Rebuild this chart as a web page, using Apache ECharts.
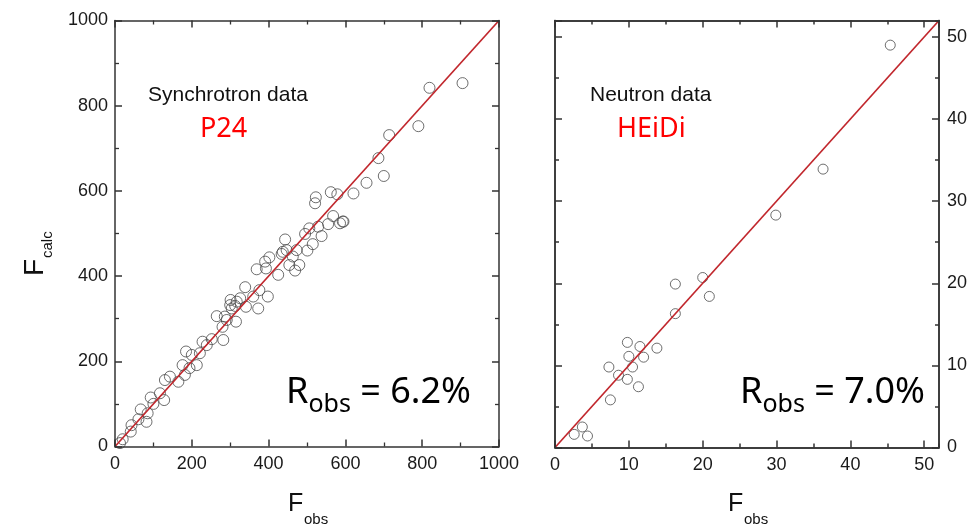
<!DOCTYPE html>
<html><head><meta charset="utf-8">
<script src="https://cdn.jsdelivr.net/npm/echarts@6/dist/echarts.min.js"></script>
<style>html,body{margin:0;padding:0;background:#fff}#c{width:971px;height:525px}</style>
</head><body><div id="c"></div>
<script>
// Synchrotron (P24) data: F_obs vs F_calc
const synObs = [905,819,790,714,686,700,655,621,579,562,523,521,568,555,586,595,538,529,506,495,515,501,443,447,434,473,454,469,480,425,402,391,393,369,398,376,373,360,339,341,326,301,304,313,315,286,265,280,282,252,228,239,221,200,185,213,176,194,182,165,143,130,128,117,93,100,67,85,82,61,43,41,20,13,463,317,291,300,593,437];
const synCalc = [853,842,752,731,677,635,619,594,592,597,585,571,541,522,524,528,494,516,512,499,475,460,486,461,452,461,426,413,426,403,444,434,418,416,352,367,324,352,374,328,348,344,324,330,293,305,306,281,250,252,246,238,219,215,223,191,191,184,168,152,164,156,109,125,115,100,87,78,58,64,50,35,17,8,446,340,297,332,528,457];
// Neutron (HEiDi) data
const neuObs = [2.6,3.7,4.4,7.5,7.3,8.6,9.8,10.0,10.5,9.8,11.3,11.5,12.0,13.8,16.3,16.3,20.0,20.9,29.9,36.3,45.4];
const neuCalc = [1.6,2.5,1.4,5.8,9.8,8.8,12.8,11.1,9.8,8.3,7.4,12.3,11.0,12.1,16.3,19.9,20.7,18.4,28.3,33.9,49.0];
// axis ranges / ticks
const synMin = 0, synMax = 1000, synStep = 200;
const neuMin = 0, neuMax = 52, neuStep = 10, neuMinorStep = 5;
// ideal line F_calc = F_obs
const synDiag = [[0,0],[1000,1000]];
const neuDiag = [[0,0],[52,52]];

const AX = '#333';
function axis(grid, pos, min, max, interval, o) {
  o = o || {};
  return {
    type: 'value', gridIndex: grid, position: pos, min: min, max: max, interval: interval,
    axisLine: {show: true, onZero: false, lineStyle: {color: AX, width: 1.5}},
    axisTick: {show: true, inside: true, length: o.tickLen || 7, lineStyle: {color: AX, width: 1.5}},
    minorTick: {show: !!o.minor, splitNumber: 2, length: 4, lineStyle: {color: AX, width: 1.3}},
    splitLine: {show: false}, minorSplitLine: {show: false},
    axisLabel: {show: !!o.label, fontSize: 18, color: '#1a1a1a', fontFamily: 'Liberation Sans',
      margin: o.margin || 8, showMaxLabel: o.showMax !== false, formatter: v => String(v)},
    z: 5
  };
}

const xAxes = [
  axis(0, 'bottom', synMin, synMax, synStep, {label: true, minor: true, margin: 9}),
  axis(0, 'top', synMin, synMax, synStep, {minor: true}),
  axis(1, 'bottom', neuMin, neuMax, neuStep, {label: true, margin: 9, showMax: false}),
  axis(1, 'bottom', neuMin, neuMax, neuMinorStep, {tickLen: 4}),
  axis(1, 'top', neuMin, neuMax, neuStep, {}),
  axis(1, 'top', neuMin, neuMax, neuMinorStep, {tickLen: 4})
];
const yAxes = [
  axis(0, 'left', synMin, synMax, synStep, {label: true, minor: true, margin: 7}),
  axis(0, 'right', synMin, synMax, synStep, {minor: true}),
  axis(1, 'right', neuMin, neuMax, neuStep, {label: true, margin: 8, showMax: false}),
  axis(1, 'right', neuMin, neuMax, neuMinorStep, {tickLen: 4}),
  axis(1, 'left', neuMin, neuMax, neuStep, {}),
  axis(1, 'left', neuMin, neuMax, neuMinorStep, {tickLen: 4})
];

const pts = (a, b) => a.map((v, i) => [v, b[i]]);
const circ = (size) => ({
  type: 'scatter', symbol: 'circle', symbolSize: size,
  itemStyle: {color: 'rgba(0,0,0,0)', borderColor: '#4a4a4a', borderWidth: 1}, z: 3
});
const diag = {type: 'line', symbol: 'none', lineStyle: {color: '#c1272d', width: 1.7}, z: 4, silent: true};

const chart = echarts.init(document.getElementById('c'), null, {renderer: 'canvas'});
const FS = 'Liberation Sans', FC = 'Noto Sans';
function robs(x, y, val) {
  return {type: 'text', left: x, top: y, z: 10, style: {
    text: '{r|R}{s|obs}{r| = ' + val + '}', fill: '#000',
    rich: {r: {fontSize: 36, fontFamily: FC, lineHeight: 48, fill: '#000'},
           s: {fontSize: 25, fontFamily: FC, lineHeight: 25, padding: [24, 0, 0, 0], fill: '#000'}}
  }};
}
function fobs(x) {
  return [
    {type: 'text', x: x, y: 517, style: {text: 'F', fontSize: 25, fontFamily: FS, fill: '#111', verticalAlign: 'bottom'}},
    {type: 'text', x: x + 16, y: 527, style: {text: 'obs', fontSize: 15, fontFamily: FS, fill: '#111', verticalAlign: 'bottom'}}
  ];
}
chart.setOption({
  animation: false,
  grid: [
    {left: 115, top: 20.5, width: 384, height: 426},
    {left: 555, top: 20.5, width: 384, height: 427}
  ],
  xAxis: xAxes,
  yAxis: yAxes,
  series: [
    Object.assign(circ(11), {xAxisIndex: 0, yAxisIndex: 0, data: pts(synObs, synCalc)}),
    Object.assign({}, diag, {xAxisIndex: 0, yAxisIndex: 0, data: synDiag}),
    Object.assign(circ(10), {xAxisIndex: 2, yAxisIndex: 2, data: pts(neuObs, neuCalc)}),
    Object.assign({}, diag, {xAxisIndex: 2, yAxisIndex: 2, data: neuDiag})
  ],
  graphic: [
    {type: 'text', x: 148, y: 95, style: {text: 'Synchrotron data', fontSize: 21, fontFamily: FS, fill: '#111', verticalAlign: 'middle'}},
    {type: 'text', x: 200, y: 129, style: {text: 'P24', fontSize: 27, fontFamily: FC, fill: '#ff0000', verticalAlign: 'middle'}},
    {type: 'text', x: 590, y: 95, style: {text: 'Neutron data', fontSize: 21, fontFamily: FS, fill: '#111', verticalAlign: 'middle'}},
    {type: 'text', x: 617, y: 129, style: {text: 'HEiDi', fontSize: 27, fontFamily: FC, fill: '#ff0000', verticalAlign: 'middle'}},
    robs(286, 368, '6.2%'),
    robs(740, 368, '7.0%'),
    ...fobs(288), ...fobs(728),
    {type: 'text', x: 35, y: 276, rotation: Math.PI / 2, style: {text: 'F', fontSize: 28, fontFamily: FS, fill: '#111', verticalAlign: 'middle'}},
    {type: 'text', x: 48, y: 258, rotation: Math.PI / 2, style: {text: 'calc', fontSize: 15, fontFamily: FS, fill: '#111', verticalAlign: 'middle'}}
  ]
});
</script>
</body></html>
